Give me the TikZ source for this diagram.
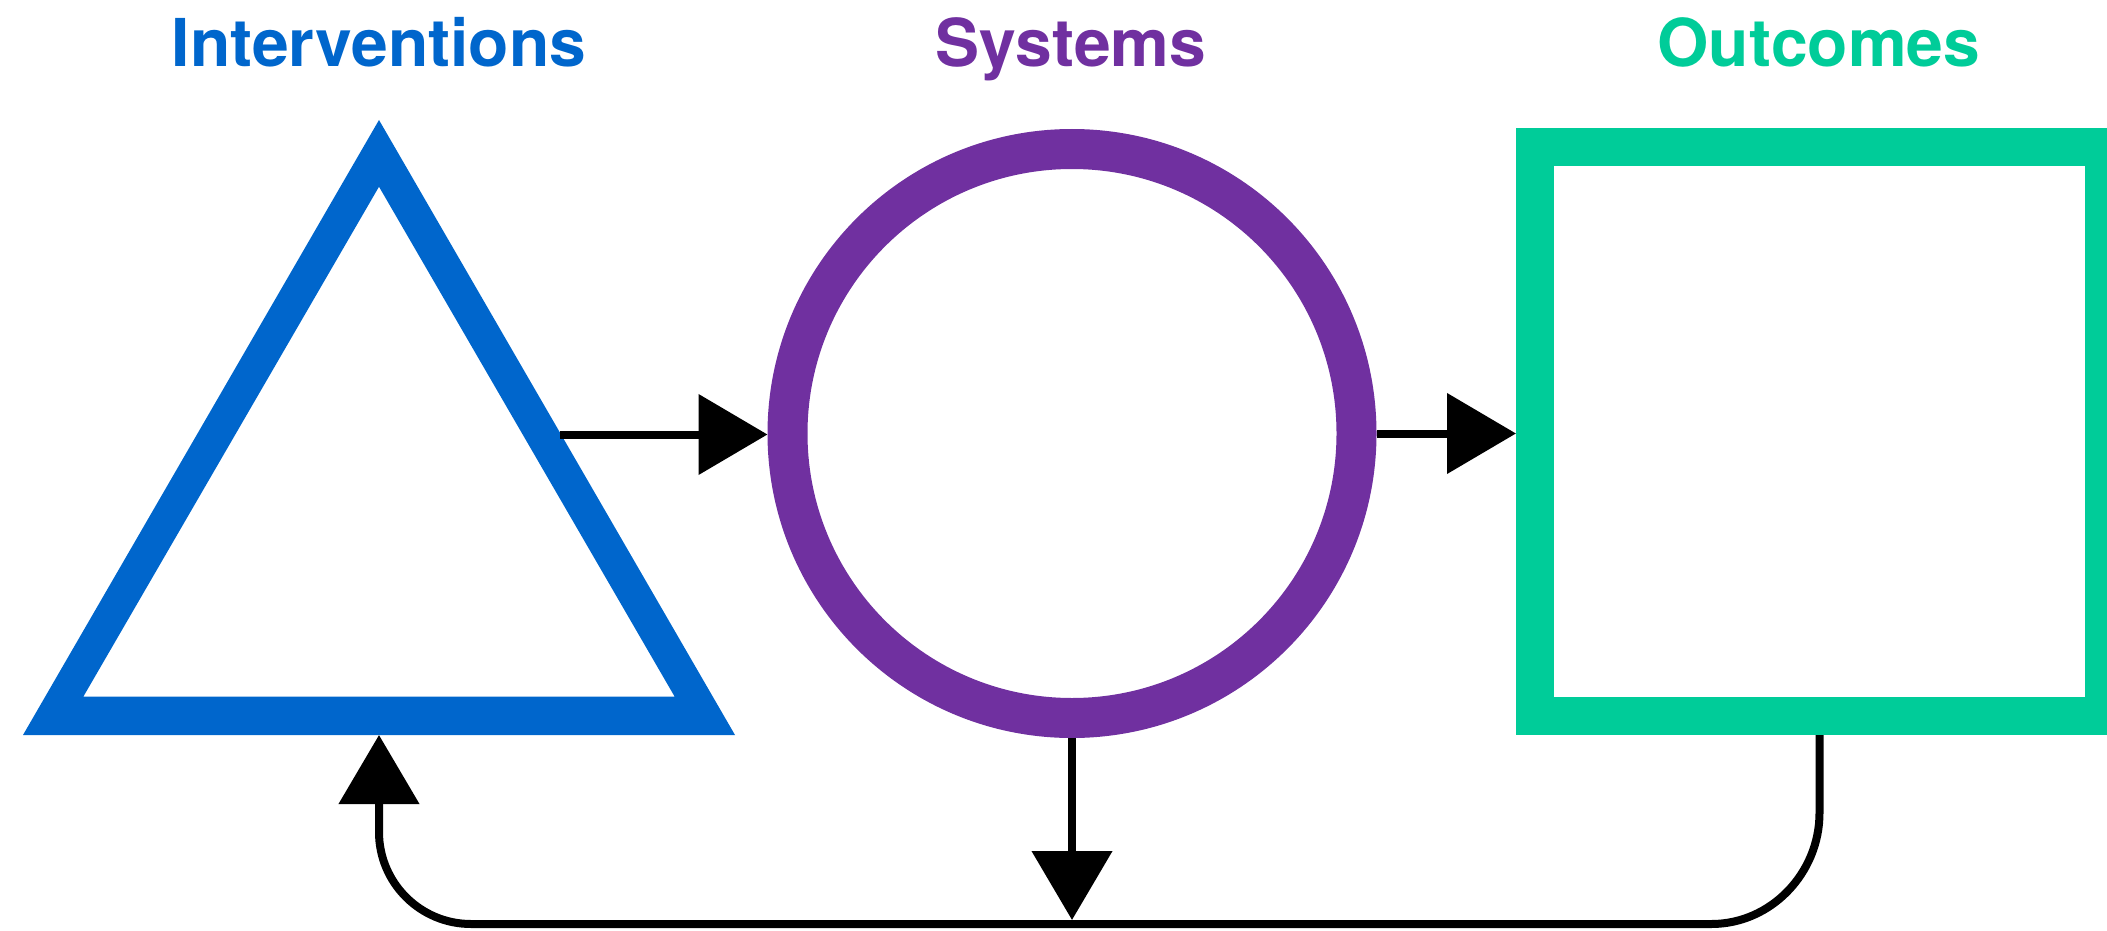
\documentclass[tikz,border=0pt]{standalone}
\usepackage{fontspec}
\setmainfont{TeX Gyre Heros}
\usetikzlibrary{arrows.meta,calc}
\definecolor{ivblue}{HTML}{0066CC}
\definecolor{sypurple}{HTML}{7030A0}
\definecolor{ocgreen}{HTML}{00CC99}
\begin{document}
\begin{tikzpicture}[x=1pt,y=-1pt,
  title/.style={anchor=base,inner sep=0pt,font=\fontsize{66}{72}\selectfont\bfseries},
  conn/.style={line width=8pt,draw=black,-{Triangle[length=69pt,width=79pt]}},
  fb/.style={line width=8pt,draw=black,-{Triangle[length=69pt,width=79pt]}}]
\useasboundingbox (0,0) rectangle (2107,931);
\clip (0,0) rectangle (2107,931);
% titles
\node[title,text=ivblue] (tI) at (379,67) {Interventions};
\node[title,text=sypurple] (tS) at (1071,67) {Systems};
\node[title,text=ocgreen] (tO) at (1819,67) {Outcomes};
% triangle
\fill[ivblue,even odd rule] (23,735) -- (735,735) -- (379,120) -- cycle
  (83.3,696.7) -- (674.7,696.7) -- (379,186.7) -- cycle;
\coordinate (triR) at (560,434.5);
\coordinate (triB) at (379,735);
% circle
\node[circle,draw=sypurple,line width=40pt,minimum size=569pt,inner sep=0pt] (sys) at (1072,433.5) {};
% square
\node[rectangle,draw=ocgreen,line width=38pt,minimum width=569pt,minimum height=569pt,inner sep=0pt] (out) at (1819.5,431.5) {};
% connectors
\draw[conn] (triR) -- (triR -| sys.west);
\draw[conn] (sys.east) -- (sys.east -| out.west);
\coordinate (bot) at (1072,920);
\draw[conn] (sys.south) -- (bot);
\draw[fb] (out.south) -- (1819.5,813)
  .. controls (1819.5,873) and (1771.1,924) .. (1711.5,924)
  -- (471,924)
  .. controls (420.2,924) and (379,882.8) .. (379,832)
  -- (triB);
\end{tikzpicture}
\end{document}
